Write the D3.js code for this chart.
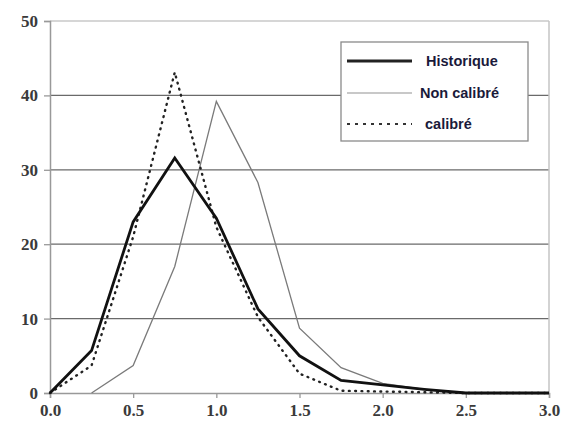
<!DOCTYPE html>
<html><head><meta charset="utf-8">
<script src="https://cdn.jsdelivr.net/npm/d3@7"></script>
<style>body{margin:0;background:#fff}</style>
</head><body><svg id="c" width="565" height="423"></svg>
<script>
const xVals = [0, 0.25, 0.5, 0.75, 1.0, 1.25, 1.5, 1.75, 2.0, 2.25, 2.5, 2.75, 3.0];
const historique = [0, 5.7, 23, 31.6, 23.5, 11.3, 5.0, 1.7, 1.1, 0.5, 0, 0, 0];
const nonCalibreX = [0.25, 0.5, 0.75, 1.0, 1.25, 1.5, 1.75, 2.0, 2.25, 2.5, 2.75, 3.0];
const nonCalibre = [0, 3.7, 17, 39.2, 28.3, 8.7, 3.4, 1.3, 0.5, 0, 0, 0];
const calibre = [0, 3.7, 21, 43.1, 22.3, 10.2, 2.6, 0.3, 0.2, 0.1, 0, 0, 0];
const xTicks = [0, 0.5, 1.0, 1.5, 2.0, 2.5, 3.0];
const yTicks = [0, 10, 20, 30, 40, 50];
const legendLabels = ["Historique", "Non calibré", "calibré"];

const svg = d3.select("#c");
const x = d3.scaleLinear().domain([0, 3]).range([50, 549]);
const y = d3.scaleLinear().domain([0, 50]).range([393, 21]);

svg.append("g").selectAll("line").data(yTicks.filter(d => d > 0)).join("line")
  .attr("x1", x(0)).attr("x2", x(3)).attr("y1", d => y(d)).attr("y2", d => y(d))
  .attr("stroke", d => d === 50 ? "#c8c8c8" : "#6a6a6a").attr("stroke-width", 1.3);

svg.append("line").attr("x1", x(3)).attr("x2", x(3)).attr("y1", y(50)).attr("y2", y(0))
  .attr("stroke", "#c4c4c4").attr("stroke-width", 1.5);

const yAxis = d3.axisLeft(y).tickValues(yTicks).tickFormat(d3.format("d")).tickSize(6).tickPadding(6);
const gy = svg.append("g").attr("transform", `translate(${x(0)},0)`).call(yAxis);
const xAxis = d3.axisBottom(x).tickValues(xTicks).tickFormat(d3.format(".1f")).tickSize(5).tickPadding(6);
const gx = svg.append("g").attr("transform", `translate(0,${y(0)})`).call(xAxis);
[gy, gx].forEach(g => {
  g.select(".domain").attr("stroke", "#999").attr("stroke-width", 1.5);
  g.selectAll(".tick line").attr("stroke", "#999").attr("stroke-width", 1.3);
  g.selectAll("text")
    .style("font-family", "'Liberation Serif', 'DejaVu Serif', serif")
    .style("font-size", "17px").style("font-weight", "bold").style("fill", "#3a3a3a");
});

const line = d3.line().x(d => x(d[0])).y(d => y(d[1]));

svg.append("path").datum(nonCalibreX.map((v, i) => [v, nonCalibre[i]]))
  .attr("d", line).attr("fill", "none").attr("stroke", "#7a7a7a").attr("stroke-width", 1.3);
svg.append("path").datum(xVals.map((v, i) => [v, calibre[i]]))
  .attr("d", line).attr("fill", "none").attr("stroke", "#222").attr("stroke-width", 2.4)
  .attr("stroke-linecap", "round").attr("stroke-dasharray", "0.8,5.5");
svg.append("path").datum(xVals.map((v, i) => [v, historique[i]]))
  .attr("d", line).attr("fill", "none").attr("stroke", "#111").attr("stroke-width", 2.8)
  .attr("stroke-linejoin", "miter");

const lg = svg.append("g");
lg.append("rect").attr("x", 341).attr("y", 42).attr("width", 187).attr("height", 99)
  .attr("fill", "#fff").attr("stroke", "#8a8a8a").attr("stroke-width", 1.3);
const styles = [
  {stroke: "#222", w: 3, dash: null},
  {stroke: "#c8c8c8", w: 2, dash: null},
  {stroke: "#333", w: 2.2, dash: "3,5"}
];
const rowsY = [61, 93, 124];
const textX = [426, 420, 425];
legendLabels.forEach((lab, i) => {
  const l = lg.append("line").attr("x1", 347).attr("x2", 412).attr("y1", rowsY[i]).attr("y2", rowsY[i])
    .attr("stroke", styles[i].stroke).attr("stroke-width", styles[i].w);
  if (styles[i].dash) l.attr("stroke-dasharray", styles[i].dash);
  lg.append("text").attr("x", textX[i]).attr("y", rowsY[i] + 5).text(lab)
    .style("font-family", "'Liberation Sans', Arial, sans-serif").style("font-size", "14.5px")
    .style("font-weight", "bold").style("fill", "#1a1a3a");
});
</script></body></html>
